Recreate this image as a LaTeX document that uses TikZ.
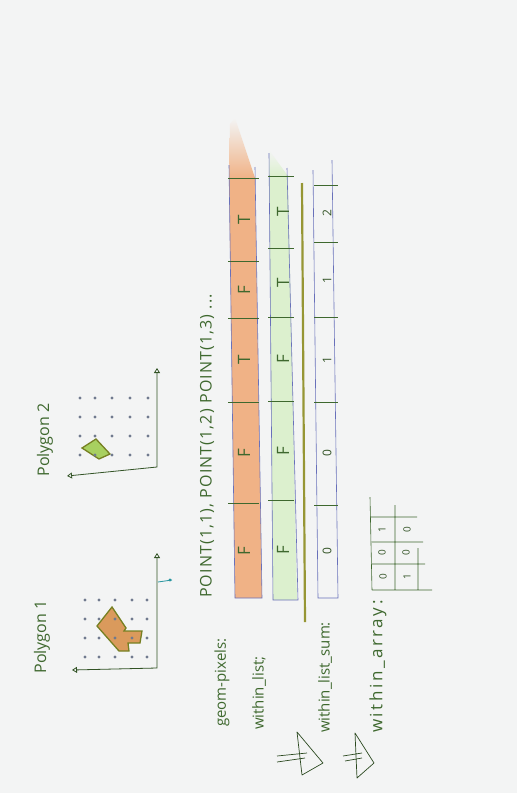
\documentclass[tikz,border=0pt]{standalone}
\usepackage{fontspec}
\setmainfont{Open Sans}
\usetikzlibrary{arrows.meta}
\definecolor{paper}{RGB}{243,244,244}
\definecolor{pen}{RGB}{62,104,46}
\definecolor{rule}{RGB}{104,112,186}
\definecolor{orangefill}{RGB}{240,178,134}
\definecolor{greenfill}{RGB}{220,240,206}
\definecolor{olivepen}{RGB}{150,150,52}
\definecolor{dotc}{RGB}{112,122,142}
\definecolor{polyedge}{RGB}{118,128,34}
\definecolor{polyorange}{RGB}{218,154,92}
\definecolor{polygreen}{RGB}{168,208,96}
\definecolor{tealpen}{RGB}{40,150,160}

\begin{document}
\begin{tikzpicture}[x=1pt, y=-1pt,
  lbl/.style={rotate=90, text=pen, inner sep=0pt, font=\fontsize{15}{18}\selectfont},
  cell/.style={rotate=90, text=pen, inner sep=0pt, font=\fontsize{17}{20}\selectfont},
  num/.style={rotate=90, text=pen!80!black, inner sep=0pt, font=\fontsize{12}{14}\selectfont},
  bar/.style={draw=rule, line width=0.6pt},
  divider/.style={draw=pen, line width=0.8pt},
  axis/.style={draw=pen!80!black, line width=0.8pt},
  >={Triangle[open, length=5pt, width=6pt]}]

\useasboundingbox (0,0) rectangle (517,793);
\fill[paper] (0,0) rectangle (517,793);

% polygon 1
\filldraw[fill=polyorange, draw=polyedge, line width=1.3pt]
  (112,607) -- (126,628) -- (124,631) -- (142,631) -- (140,643) -- (128,643)
  -- (129,651) -- (119,651) -- (97,626) -- cycle;
\foreach \x in {85,99,115,132,147}
  \foreach \y in {600,619,638,657}
    \fill[dotc] (\x,\y) circle (1.6);
\draw[axis, <->] (157,553) -- (157,668) -- (72,670);
\draw[tealpen, line width=0.8pt] (158,582) -- (172,580);
\fill[tealpen] (170,580) circle (1.6);
\node[lbl, font=\fontsize{16}{18}\selectfont] (poly1) at (42,637) {Polygon 1};

% polygon 2
\filldraw[fill=polygreen, draw=polyedge, line width=1.3pt]
  (82,448) -- (96,439) -- (110,454) -- (99,459) -- cycle;
\foreach \x in {80,95,112,130,148}
  \foreach \y in {398,417,436,455}
    \fill[dotc] (\x,\y) circle (1.6);
\draw[axis, <->] (157,368) -- (157,467) -- (67,476);
\node[lbl, font=\fontsize{16}{18}\selectfont] (poly2) at (45,440) {Polygon 2};

% geom_pixels list
\shade[top color=paper, bottom color=orangefill]
  (229,178) -- (230,124) -- (235,118) -- (255,178) -- cycle;
\fill[orangefill] (229,178) -- (255,178) -- (262,598) -- (235,598) -- cycle;
\draw[bar] (229,165) -- (235,598) -- (262,598) -- (255,167);
\foreach \y/\t in {220/T, 290/F, 360/T, 453/F, 551/F}
  \node[cell] at (244,\y) {\t};
\foreach \y in {178,261,318,402,503}
  \draw[divider] (228,\y) -- (259,\y);
\node[lbl, anchor=west] (geom) at (222,727) {geom-pixels:};
\node[lbl, anchor=west, font=\fontsize{16}{18}\selectfont\addfontfeature{LetterSpace=7}]
  (points) at (207,598) {POINT(1,1), POINT(1,2) POINT(1,3) ...};

% within_list
\shade[top color=paper, bottom color=greenfill]
  (269,176) -- (269,150) -- (288,176) -- cycle;
\fill[greenfill] (269,176) -- (288,176) -- (297,600) -- (273,600) -- cycle;
\draw[bar] (269,153) -- (273,600) -- (298,600) -- (287,168);
\foreach \y/\t in {212/T, 283/T, 359/F, 451/F, 550/F}
  \node[cell] at (283,\y) {\t};
\foreach \y in {176,248,317,401,500}
  \draw[divider] (268,\y) -- (294,\y);
\node[lbl, anchor=west] (wlist) at (259,730) {within\_list;};

% separator
\draw[olivepen, line width=2.2pt] (302,183) -- (305,622);

% within_list_sum
\draw[bar] (313,170) -- (318,598) -- (338,598) -- (332,160);
\foreach \y/\t in {213/2, 280/1, 360/1, 453/0, 551/0}
  \node[num] at (327,\y) {\t};
\foreach \y in {185,242,317,402,505}
  \draw[divider] (314,\y) -- (338,\y);
\node[lbl, anchor=west] (wsum) at (325,733) {within\_list\_sum:};

% within_array
\draw[divider, line width=0.6pt] (370,497) -- (372,590) (395,505) -- (395,590) (418,548) -- (418,590)
  (370,517) -- (417,517) (372,542) -- (423,542) (372,564) -- (425,564) (372,590) -- (432,590);
\foreach \x/\y/\t in {382/530/1, 382/553/0, 383/577/0, 407/530/0, 406/553/0, 407/577/1}
  \node[num, font=\fontsize{10}{12}\selectfont] at (\x,\y) {\t};
\node[lbl, anchor=west, font=\fontsize{17}{18}\selectfont\addfontfeature{LetterSpace=15}]
  (warray) at (378,733) {within\_array:};

% arrows between the steps
\draw[pen!70!black, line width=0.7pt, line join=round]
  (297,732) -- (323,763) -- (302,775) -- cycle
  (277,756) -- (307,753) (277,762) -- (305,758);
\draw[pen!70!black, line width=0.7pt, line join=round]
  (355,733) -- (374,763) -- (357,778) -- cycle
  (343,756) -- (362,753) (345,761) -- (362,758);
\end{tikzpicture}
\end{document}
